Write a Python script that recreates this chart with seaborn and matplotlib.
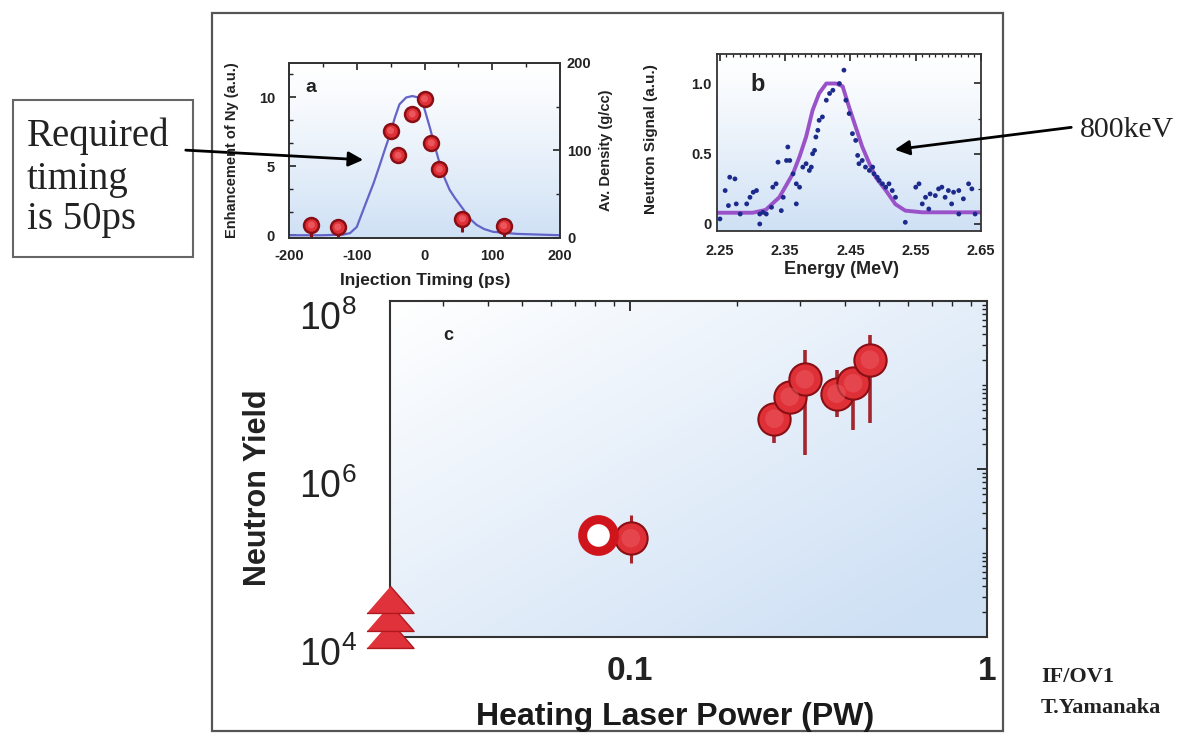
import numpy as np
import pandas as pd
import matplotlib
matplotlib.use("Agg")
import matplotlib.pyplot as plt
import seaborn as sns
from matplotlib.patches import Rectangle, FancyArrowPatch
from matplotlib.ticker import AutoMinorLocator, MultipleLocator, LogLocator, NullFormatter, FixedLocator, FixedFormatter
from matplotlib.transforms import ScaledTranslation

# ---------------- data ----------------
# panel a : enhancement vs injection timing
a_timing = [-167, -128, -50, -39, -18, 0, 10, 22, 56, 117]
a_enh = [0.75, 0.6, 7.6, 5.8, 8.8, 9.9, 6.7, 4.8, 1.2, 0.7]
a_err_low = [0.9, 0.8, 0.3, 0.3, 0.3, 0.3, 0.3, 0.3, 1.0, 0.8]
a_err_high = [0.0, 0.0, 0.0, 0.0, 0.0, 0.0, 0.0, 0.0, 0.0, 0.0]
a_fit_t = [-200, -150, -120, -110, -100, -86, -75, -66, -58, -51, -44, -37, -27, -18, -9,
           -2, 8, 15, 23, 30, 37, 45, 57, 67, 77, 88, 101, 136, 200]
a_fit_y = [0.0, 0.0, 0.05, 0.15, 0.6, 2.4, 3.8, 5.1, 6.3, 7.3, 8.5, 9.5, 10.0, 10.1, 10.0,
           9.5, 7.8, 6.5, 5.1, 4.1, 3.3, 2.7, 1.9, 1.2, 0.75, 0.45, 0.25, 0.1, 0.0]
a_xticks = [-200, -100, 0, 100, 200]
a_yticks = [0, 5, 10]
a_rticks = [0, 100, 200]

# panel b : neutron spectrum
b_energy = [2.250, 2.258, 2.265, 2.273, 2.263, 2.275, 2.281, 2.291, 2.296, 2.301, 2.306, 2.311,
            2.316, 2.321, 2.329, 2.331, 2.336, 2.339, 2.344, 2.347, 2.352, 2.354, 2.357, 2.362,
            2.367, 2.372, 2.377, 2.382, 2.387, 2.390, 2.392, 2.395, 2.397, 2.400, 2.402, 2.407,
            2.413, 2.418, 2.423, 2.433, 2.440, 2.443, 2.448, 2.453, 2.458, 2.461, 2.463, 2.468,
            2.473, 2.479, 2.484, 2.486, 2.491, 2.494, 2.499, 2.504, 2.509, 2.514, 2.519, 2.534,
            2.550, 2.555, 2.560, 2.565, 2.572, 2.580, 2.585, 2.590, 2.595, 2.600, 2.608, 2.616,
            2.623, 2.631, 2.636, 2.641, 2.311, 2.367, 2.570, 2.605, 2.616]
b_signal = [0.036, 0.238, 0.333, 0.321, 0.131, 0.143, 0.071, 0.143, 0.190, 0.226, 0.238, 0.071,
            0.083, 0.071, 0.119, 0.262, 0.286, 0.440, 0.095, 0.190, 0.452, 0.548, 0.452, 0.357,
            0.286, 0.262, 0.405, 0.429, 0.381, 0.405, 0.500, 0.524, 0.619, 0.667, 0.738, 0.762,
            0.881, 0.929, 0.952, 1.000, 1.095, 0.881, 0.786, 0.643, 0.595, 0.488, 0.429, 0.452,
            0.405, 0.381, 0.405, 0.357, 0.333, 0.310, 0.286, 0.262, 0.286, 0.238, 0.190, 0.012,
            0.262, 0.286, 0.143, 0.190, 0.214, 0.202, 0.250, 0.262, 0.190, 0.238, 0.226, 0.238,
            0.179, 0.286, 0.250, 0.071, 0.000, 0.143, 0.107, 0.143, 0.071]
b_fit_e = [2.245, 2.300, 2.320, 2.341, 2.362, 2.372, 2.382, 2.392, 2.402, 2.413, 2.428, 2.438,
           2.448, 2.458, 2.468, 2.479, 2.489, 2.504, 2.519, 2.534, 2.560, 2.648]
b_fit_s = [0.08, 0.08, 0.10, 0.19, 0.36, 0.48, 0.62, 0.81, 0.93, 1.00, 1.00, 0.98,
           0.83, 0.69, 0.55, 0.43, 0.33, 0.24, 0.14, 0.095, 0.083, 0.083]
b_xticks = [2.25, 2.35, 2.45, 2.55, 2.65]
b_xticklabels = ["2.25", "2.35", "2.45", "2.55", "2.65"]
b_yticks = [0, 0.5, 1.0]
b_yticklabels = ["0", "0.5", "1.0"]

# panel c : neutron yield vs heating laser power
c_power = [0.254, 0.280, 0.309, 0.379, 0.422, 0.470]
c_yield = [3.97e6, 7.26e6, 1.17e7, 7.9e6, 1.05e7, 2.0e7]
c_low = [2.04e6, 5.5e6, 1.47e6, 4.2e6, 2.9e6, 3.5e6]
c_high = [5.0e6, 9.0e6, 2.6e7, 1.5e7, 1.4e7, 3.9e7]
c_mid_power = [0.1006]
c_mid_yield = [1.5e5]
c_mid_low = [7.6e4]
c_mid_high = [2.8e5]
c_open_power = [0.0813]
c_open_yield = [1.64e5]
c_tri_power = [0.0213, 0.0213, 0.0213]
c_tri_yield = [1.05e4, 1.7e4, 2.75e4]
c_xticks = [0.1, 1]
c_xticklabels = ["0.1", "1"]
c_yticks = [1e4, 1e6, 1e8]
c_yticklabels = [r"$\mathregular{10^{4}}$", r"$\mathregular{10^{6}}$", r"$\mathregular{10^{8}}$"]

# ---------------- style ----------------
sns.set_theme(style="white")
plt.rcParams['font.family'] = ['Liberation Sans', 'DejaVu Sans']
plt.rcParams['mathtext.fontset'] = 'custom'
plt.rcParams['mathtext.rm'] = 'Liberation Sans'
plt.rcParams['mathtext.it'] = 'Liberation Sans'
plt.rcParams['mathtext.bf'] = 'Liberation Sans:bold'
plt.rcParams['axes.unicode_minus'] = False

W, H = 1197, 742
fig = plt.figure(figsize=(W / 100, H / 100), dpi=100)
fig.patch.set_facecolor("white")


def fx(x):
    return x / W


def fy(y):
    return 1 - y / H


def add_axes_px(l, t, r, b):
    return fig.add_axes([fx(l), fy(b), fx(r) - fx(l), fy(t) - fy(b)])


def gradient(ax, kind="vertical"):
    n = 200
    if kind == "vertical":
        g = np.linspace(0, 1, n)[:, None] * np.ones((1, n))
        g = g ** 1.2
    else:
        xx, yy = np.meshgrid(np.linspace(0, 1, n), np.linspace(0, 1, n))
        g = 0.55 * xx + 0.55 * yy
        g = np.clip(g, 0, 1)
    top = np.array([1.0, 1.0, 1.0])
    bot = np.array([0.81, 0.88, 0.96])
    img = top[None, None, :] * (1 - g[..., None]) + bot[None, None, :] * g[..., None]
    ax.imshow(img, extent=[0, 1, 0, 1], origin="upper", transform=ax.transAxes,
              aspect="auto", zorder=0, interpolation="bicubic")


red_face = "#df3038"
red_edge = "#8a0f14"
red_hi = "#ee6066"

# outer frame
fig.add_artist(Rectangle((fx(212), fy(731)), fx(1003) - fx(212), fy(13) - fy(731),
                         transform=fig.transFigure, fill=False, edgecolor="#555555", lw=1.6))

# ---------------- panel a ----------------
axa = add_axes_px(289, 63, 560, 238)
gradient(axa, "vertical")
sns.lineplot(x=a_fit_t, y=a_fit_y, ax=axa, color="#6464c8", lw=1.6, zorder=2)
axa.errorbar(a_timing, a_enh, yerr=[a_err_low, a_err_high], fmt="none",
             ecolor=red_edge, elinewidth=2.2, capsize=0, zorder=3)
sns.scatterplot(x=a_timing, y=a_enh, ax=axa, s=115, color=red_face, edgecolor=red_edge,
                linewidth=1.8, zorder=4)
sns.scatterplot(x=a_timing, y=a_enh, ax=axa, s=25, color=red_hi, edgecolor="none",
                linewidth=0, zorder=5, alpha=0.8)
axa.set_xlim(-200, 200)
axa.set_ylim(-0.2, 12.5)
axa.set_xticks(a_xticks)
axa.set_yticks(a_yticks)
axa.xaxis.set_minor_locator(MultipleLocator(50))
axa.yaxis.set_minor_locator(AutoMinorLocator(3))
axa.tick_params(which="both", direction="in", top=True, right=False, labelsize=10.5,
                colors="#222222")
axa.tick_params(axis="y", pad=10)
axa.tick_params(axis="x", pad=8)
axa.tick_params(which="major", length=5, width=1.2)
axa.tick_params(which="minor", length=3, width=1.0)
for lab in axa.get_xticklabels() + axa.get_yticklabels():
    lab.set_fontweight("bold")
axa.set_xlabel("")
axa.set_ylabel("")
axr = axa.twinx()
axr.set_ylim(0, 200)
axr.set_yticks(a_rticks)
axr.yaxis.set_minor_locator(MultipleLocator(50))
axr.tick_params(which="both", direction="in", right=True, labelsize=10.5, pad=5, colors="#222222")
axr.tick_params(which="major", length=5, width=1.2)
axr.tick_params(which="minor", length=3, width=1.0)
for lab in axr.get_yticklabels():
    lab.set_fontweight("bold")
for ax in (axa, axr):
    for s in ax.spines.values():
        s.set_color("#333333")
        s.set_linewidth(1.3)
axa.text(0.08, 0.86, "a", transform=axa.transAxes, fontsize=14, fontweight="bold",
         ha="center", va="center", color="#222222")
fig.text(fx(425), fy(280), "Injection Timing (ps)", ha="center", va="center",
         fontsize=12.5, fontweight="bold", color="#222222")
fig.text(fx(232), fy(150), "Enhancement of Ny (a.u.)", ha="center", va="center",
         rotation=90, fontsize=10.5, fontweight="bold", color="#222222")
fig.text(fx(606), fy(150), "Av. Density (g/cc)", ha="center", va="center",
         rotation=90, fontsize=10.5, fontweight="bold", color="#222222")

# ---------------- panel b ----------------
axb = add_axes_px(717, 54, 981, 231)
gradient(axb, "vertical")
sns.lineplot(x=b_fit_e, y=b_fit_s, ax=axb, color="#9a52c8", lw=2.8, zorder=2)
sns.scatterplot(x=b_energy, y=b_signal, ax=axb, s=12, color="#1c2a8c", edgecolor="none",
                zorder=3)
axb.set_xlim(2.2455, 2.647)
axb.set_ylim(-0.05, 1.21)
axb.set_xticks(b_xticks)
axb.set_xticklabels(b_xticklabels)
axb.set_yticks(b_yticks)
axb.set_yticklabels(b_yticklabels)
axb.xaxis.set_minor_locator(MultipleLocator(0.01))
axb.yaxis.set_minor_locator(AutoMinorLocator(2))
axb.tick_params(which="both", direction="in", top=True, right=True, labelsize=10.5,
                colors="#222222")
axb.tick_params(axis="y", pad=4)
axb.tick_params(axis="x", pad=9)
axb.tick_params(which="major", length=5, width=1.2)
axb.tick_params(which="minor", length=2.5, width=0.9)
for lab in axb.get_xticklabels() + axb.get_yticklabels():
    lab.set_fontweight("bold")
for s in axb.spines.values():
    s.set_color("#333333")
    s.set_linewidth(1.3)
axb.set_xlabel("")
axb.set_ylabel("")
axb.text(0.155, 0.83, "b", transform=axb.transAxes, fontsize=17, fontweight="bold",
         ha="center", va="center", color="#222222")
fig.text(fx(841), fy(270), "Energy (MeV)", ha="center", va="center",
         fontsize=13, fontweight="bold", color="#222222")
fig.text(fx(651), fy(139), "Neutron Signal (a.u.)", ha="center", va="center",
         rotation=90, fontsize=11, fontweight="bold", color="#222222")

# ---------------- panel c ----------------
axc = add_axes_px(390, 301, 987, 637)
axc.set_xscale("log")
axc.set_yscale("log")
gradient(axc, "diag")
axc.errorbar(c_power, c_yield,
             yerr=[np.array(c_yield) - np.array(c_low), np.array(c_high) - np.array(c_yield)],
             fmt="none", ecolor="#a3262e", elinewidth=2.6, capsize=0, zorder=3)
axc.errorbar(c_mid_power, c_mid_yield,
             yerr=[np.array(c_mid_yield) - np.array(c_mid_low),
                   np.array(c_mid_high) - np.array(c_mid_yield)],
             fmt="none", ecolor="#a3262e", elinewidth=2.2, capsize=0, zorder=3)
sns.scatterplot(x=c_power + c_mid_power, y=c_yield + c_mid_yield, ax=axc, s=540,
                color=red_face, edgecolor=red_edge, linewidth=1.5, zorder=4)
sns.scatterplot(x=c_power + c_mid_power, y=c_yield + c_mid_yield, ax=axc, s=180,
                color=red_hi, edgecolor="none", linewidth=0, zorder=5, alpha=0.45)
sns.scatterplot(x=c_open_power, y=c_open_yield, ax=axc, s=520, color="white",
                edgecolor="#d0141c", linewidth=6.5, zorder=4)
tri = [(-1.0, -0.55), (1.0, -0.55), (0.0, 0.6)]
sns.scatterplot(x=c_tri_power, y=c_tri_yield, ax=axc, s=1150, marker=tri, color="#e0323a",
                edgecolor="#b01820", linewidth=1.0, zorder=6, clip_on=False)
axc.set_xlim(0.0213, 1.0)
axc.set_ylim(1e4, 1e8)
axc.xaxis.set_major_locator(FixedLocator(c_xticks))
axc.xaxis.set_major_formatter(FixedFormatter(c_xticklabels))
axc.xaxis.set_minor_locator(LogLocator(base=10, subs=np.arange(2, 10), numticks=20))
axc.xaxis.set_minor_formatter(NullFormatter())
axc.yaxis.set_major_locator(FixedLocator(c_yticks))
axc.yaxis.set_major_formatter(FixedFormatter(c_yticklabels))
axc.yaxis.set_minor_locator(LogLocator(base=10, subs=np.arange(1, 10), numticks=20))
axc.yaxis.set_minor_formatter(NullFormatter())
axc.tick_params(which="both", direction="in", top=True, right=True, colors="#222222")
axc.tick_params(which="major", length=7, width=1.3)
axc.tick_params(which="minor", length=3.5, width=1.0)
axc.tick_params(axis="x", which="major", labelsize=24, pad=14)
axc.tick_params(axis="y", which="major", labelsize=27, pad=24)
for lab in axc.get_xticklabels():
    lab.set_fontweight("bold")
for lab in axc.get_yticklabels():
    lab.set_transform(lab.get_transform() + ScaledTranslation(0, -0.14, fig.dpi_scale_trans))
for s in axc.spines.values():
    s.set_color("#333333")
    s.set_linewidth(1.5)
axc.set_xlabel("")
axc.set_ylabel("")
axc.text((448 - 390) / 597, 1 - (335 - 301) / 336, "c", transform=axc.transAxes,
         fontsize=13, fontweight="bold", ha="center", va="center", color="#222222")
fig.text(fx(258), fy(488), "Neutron Yield", ha="center", va="center", rotation=90,
         fontsize=22, fontweight="bold", color="#222222")
fig.text(fx(675), fy(717), "Heating Laser Power (PW)", ha="center", va="center",
         fontsize=23, fontweight="bold", color="#1a1a1a",
         family=["Liberation Sans Narrow", "Liberation Sans", "DejaVu Sans"])

# ---------------- annotations ----------------
serif = ["Liberation Serif", "DejaVu Serif"]
fig.add_artist(Rectangle((fx(13), fy(257)), fx(193) - fx(13), fy(100) - fy(257),
                         transform=fig.transFigure, fill=False, edgecolor="#666666", lw=1.5))
for txt, yy in [("Required", 136), ("timing", 179), ("is 50ps", 219)]:
    fig.text(fx(27), fy(yy), txt, ha="left", va="center", fontsize=28, family=serif,
             color="#222222")
fig.add_artist(FancyArrowPatch((fx(183), fy(150)), (fx(366), fy(160)),
                               transform=fig.transFigure, arrowstyle="-|>",
                               mutation_scale=22, lw=2.0, color="black"))
fig.text(fx(1080), fy(130), "800keV", ha="left", va="center", fontsize=21.5, family=serif,
         color="#222222")
fig.add_artist(FancyArrowPatch((fx(1074), fy(127)), (fx(892), fy(150)),
                               transform=fig.transFigure, arrowstyle="-|>",
                               mutation_scale=22, lw=2.0, color="black"))
fig.text(fx(1041), fy(677), "IF/OV1", ha="left", va="center", fontsize=16, family=serif,
         fontweight="bold", color="#222222")
fig.text(fx(1041), fy(708), "T.Yamanaka", ha="left", va="center", fontsize=16, family=serif,
         fontweight="bold", color="#222222")

fig.savefig("out.png", dpi=100, facecolor="white")
